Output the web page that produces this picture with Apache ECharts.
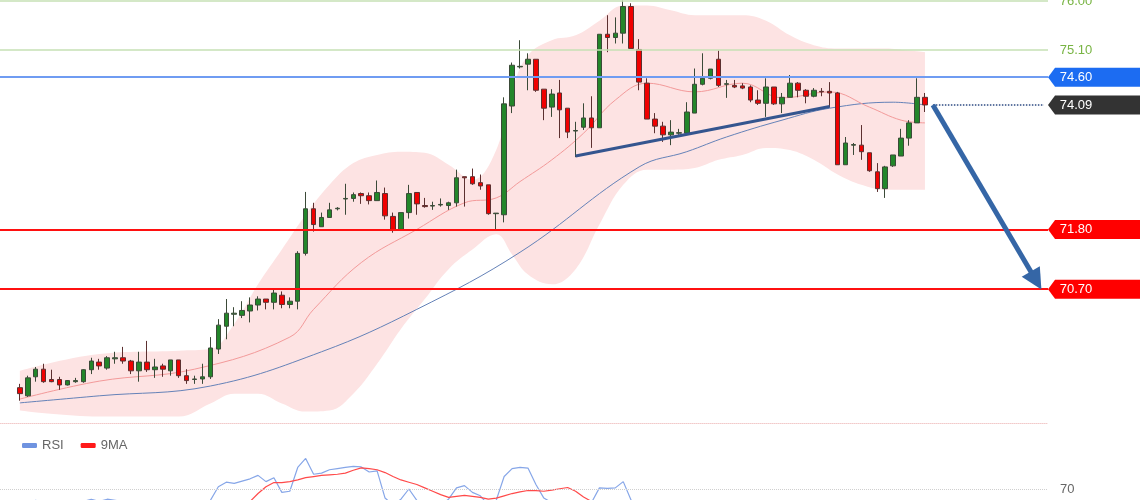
<!DOCTYPE html>
<html>
<head>
<meta charset="utf-8">
<script src="https://cdn.jsdelivr.net/npm/echarts@6/dist/echarts.min.js"></script>
<style>
  html, body { margin: 0; background: #fff; }
  #chart { width: 1140px; height: 500px; }
</style>
</head>
<body>
<div id="chart"></div>
<script>
// empty slots before the first candle, and total slots on the x axis
const LEAD = 2;
const SLOTS = 132;

// [open, close, low, high]
const candles = [
  [68.89, 68.78, 68.65, 68.96], [68.74, 69.07, 68.72, 69.11], [69.09, 69.23, 69.00, 69.27], [69.23, 69.00, 68.98, 69.33],
  [69.04, 69.00, 68.99, 69.22], [69.04, 68.94, 68.85, 69.09], [68.94, 69.02, 68.93, 69.03], [69.00, 69.02, 68.98, 69.07],
  [69.00, 69.22, 68.98, 69.23], [69.22, 69.38, 69.14, 69.44], [69.36, 69.29, 69.22, 69.42], [69.25, 69.44, 69.22, 69.47],
  [69.42, 69.44, 69.33, 69.55], [69.44, 69.38, 69.33, 69.64], [69.38, 69.20, 69.14, 69.40], [69.20, 69.36, 69.00, 69.55],
  [69.36, 69.22, 69.18, 69.75], [69.22, 69.27, 69.07, 69.42], [69.29, 69.23, 69.09, 69.33], [69.20, 69.40, 69.11, 69.40],
  [69.40, 69.11, 69.07, 69.40], [69.11, 69.02, 68.96, 69.23], [69.04, 69.05, 68.96, 69.11], [69.05, 69.09, 68.96, 69.33],
  [69.09, 69.62, 69.05, 69.82], [69.60, 70.04, 69.51, 70.15], [70.02, 70.26, 69.78, 70.52], [70.24, 70.26, 70.02, 70.37],
  [70.22, 70.31, 70.17, 70.48], [70.30, 70.41, 70.09, 70.55], [70.41, 70.52, 70.31, 70.57], [70.52, 70.46, 70.33, 70.52],
  [70.46, 70.63, 70.33, 70.70], [70.59, 70.42, 70.35, 70.66], [70.42, 70.48, 70.35, 70.55], [70.48, 71.36, 70.33, 71.40],
  [71.36, 72.18, 71.32, 72.49], [72.18, 71.89, 71.76, 72.29], [71.85, 72.02, 71.85, 72.11], [72.02, 72.16, 72.02, 72.29],
  [72.18, 72.19, 72.15, 72.21], [72.36, 72.37, 72.07, 72.64], [72.37, 72.44, 72.31, 72.48], [72.46, 72.42, 72.27, 72.48],
  [72.42, 72.33, 72.26, 72.48], [72.33, 72.48, 72.33, 72.70], [72.46, 72.05, 71.98, 72.57], [72.04, 71.78, 71.74, 72.11],
  [71.80, 72.11, 71.80, 72.11], [72.11, 72.46, 72.00, 72.62], [72.48, 72.27, 72.07, 72.48], [72.24, 72.22, 72.20, 72.38],
  [72.23, 72.24, 72.16, 72.31], [72.25, 72.26, 72.22, 72.37], [72.24, 72.29, 72.16, 72.31], [72.29, 72.75, 72.22, 72.90],
  [72.77, 72.75, 72.22, 72.77], [72.77, 72.64, 72.62, 72.92], [72.66, 72.60, 72.53, 72.81], [72.62, 72.09, 72.07, 72.62],
  [72.09, 72.10, 71.80, 72.10], [72.07, 74.11, 71.93, 74.23], [74.07, 74.82, 73.94, 74.87], [74.79, 74.80, 74.76, 75.28],
  [74.84, 74.93, 74.36, 75.04], [74.93, 74.36, 74.33, 74.93], [74.38, 74.03, 73.81, 74.38], [74.05, 74.29, 73.87, 74.38],
  [74.31, 74.00, 73.48, 74.55], [74.03, 73.59, 73.48, 74.03], [73.61, 73.62, 73.13, 73.78], [73.68, 73.85, 73.63, 74.12],
  [73.85, 73.67, 73.30, 74.25], [73.67, 75.39, 73.67, 75.39], [75.39, 75.33, 75.06, 75.74], [75.33, 75.41, 75.22, 75.70],
  [75.41, 75.90, 75.22, 76.01], [75.90, 75.13, 75.13, 75.96], [75.11, 74.51, 74.36, 75.30], [74.49, 73.83, 73.83, 74.58],
  [73.83, 73.70, 73.57, 73.94], [73.70, 73.54, 73.41, 73.78], [73.54, 73.59, 73.35, 73.81], [73.57, 73.58, 73.54, 73.65],
  [73.57, 73.96, 73.57, 74.14], [73.94, 74.47, 73.94, 74.76], [74.47, 74.58, 74.45, 75.04], [74.58, 74.75, 74.56, 74.75],
  [74.93, 74.45, 74.42, 75.09], [74.47, 74.48, 74.22, 74.55], [74.45, 74.42, 74.40, 74.55], [74.44, 74.40, 74.38, 74.49],
  [74.42, 74.18, 74.14, 74.45], [74.18, 74.12, 74.09, 74.36], [74.12, 74.42, 73.87, 74.58], [74.42, 74.11, 74.09, 74.42],
  [74.11, 74.23, 73.94, 74.31], [74.23, 74.49, 74.23, 74.64], [74.49, 74.36, 74.23, 74.51], [74.36, 74.25, 74.12, 74.38],
  [74.25, 74.36, 74.23, 74.40], [74.34, 74.33, 74.25, 74.40], [74.34, 74.31, 74.05, 74.51], [74.31, 72.99, 72.99, 74.33],
  [72.99, 73.39, 72.99, 73.50], [73.35, 73.36, 73.17, 73.39], [73.35, 73.23, 73.08, 73.72], [73.21, 72.88, 72.86, 73.21],
  [72.86, 72.55, 72.49, 73.02], [72.55, 72.95, 72.38, 72.97], [72.97, 73.17, 72.95, 73.17], [73.15, 73.48, 73.15, 73.65],
  [73.48, 73.76, 73.34, 73.81], [73.76, 74.23, 73.76, 74.58], [74.23, 74.09, 73.96, 74.31]
];

// [candle index, price]
const ma20 = [[0, 68.68], [10, 69.01], [22, 69.23], [34, 69.82], [37, 70.33], [43, 71.19], [50, 71.80], [56, 72.29],
  [60, 72.38], [63, 72.68], [67, 73.08], [71, 73.57], [75, 74.18], [79, 74.49], [85, 74.33], [91, 74.49], [96, 74.22],
  [102, 74.33], [107, 74.05], [111, 73.81], [114, 73.76]];
const ma50 = [[0, 68.61], [10, 68.74], [24, 68.92], [38, 69.55], [50, 70.33], [63, 71.38], [78, 72.95], [84, 73.23],
  [89, 73.50], [96, 73.81], [102, 74.03], [110, 74.14], [114, 74.09]];

// Bollinger band, sampled at these candle indices
const bandIdx = [0, 10, 20, 24, 27, 30, 33, 36, 39, 42, 45, 48, 51, 54, 57, 60, 62, 64, 67, 70, 73, 76, 79, 82, 85, 88,
  91, 94, 97, 100, 103, 106, 109, 112, 114];
const bandUpper = [69.20, 69.51, 69.57, 69.60, 70.06, 70.79, 71.43, 72.07, 72.62, 73.02, 73.17, 73.23, 73.21, 72.99,
  72.71, 73.26, 74.36, 75.00, 75.28, 75.37, 75.64, 75.92, 75.92, 75.83, 75.74, 75.74, 75.74, 75.64, 75.37, 75.19, 75.13,
  75.13, 75.13, 75.09, 75.06];
const bandLower = [68.47, 68.36, 68.36, 68.60, 68.78, 68.78, 68.60, 68.45, 68.47, 68.78, 69.33, 69.97, 70.52, 71.07,
  71.43, 71.71, 71.34, 70.97, 70.79, 71.07, 71.89, 72.62, 72.90, 72.90, 72.93, 73.08, 73.17, 73.30, 73.26, 73.08, 72.81,
  72.62, 72.53, 72.53, 72.53];

const rsi = [55, 58, 60, 58, 57, 55, 56, 56, 59, 61, 59, 61, 60, 59, 55, 58, 56, 57, 56, 59, 54, 52, 52, 53,
  60, 72, 76, 75, 77, 79, 82, 76.5, 80, 67, 68, 89, 97, 83, 84, 87, 88, 89, 90, 89.5, 85, 86, 62, 56, 61, 70,
  60, 54, 54, 56, 61, 71, 73, 67, 64, 56, 60, 81, 88, 89, 88.5, 74, 62, 58, 55, 52, 48, 50, 58, 71, 70.5, 71,
  76.5, 60, 50, 42, 38, 36, 35, 36, 36, 44, 52, 54, 56, 50, 50, 49, 49, 46, 45, 51, 46, 48, 53, 50, 48, 50,
  50, 49, 30, 38, 38, 36, 32, 28, 38, 42, 48, 52, 56];
const rsiMa = [55, 55, 56, 56, 57, 57, 57, 56, 56, 56, 57, 57, 58, 58, 58, 57, 57, 57, 56, 56, 55, 55, 55, 55,
  55, 55, 56, 56, 57, 59, 66, 72, 75.7, 75.7, 76.5, 78, 80, 81, 82, 82.5, 83, 84, 86.5, 88.7, 88, 87, 84.5, 81,
  78, 76, 74, 71, 68, 65, 62.6, 63.5, 64.3, 63.5, 62.6, 61, 62, 64, 66, 67.5, 68.7, 68.5, 68, 69, 70.2, 71.3,
  68, 63, 59, 57, 57, 58, 59, 59, 58, 56, 53, 50, 47, 45, 43, 42, 42, 43, 44, 46, 48, 49, 50, 50, 50, 49, 49,
  49, 49, 49, 50, 50, 50, 49, 46, 43, 41, 40, 39, 38, 38, 39, 40, 42, 44];

const resistances = [76.00, 75.10];
const pivot = 74.60;
const supports = [71.80, 70.70];
const lastPrice = 74.09;
const rsiLevel = 70;
const trendFrom = [70, 73.15];
const trendTo = [102, 74.06];
const arrowFrom = [115, 74.09];
const arrowTo = [128, 70.86];

const slots = Array.from({ length: SLOTS }, (_, i) => String(i));
const slotOf = i => String(i + LEAD);
const pairs = list => list.map(([i, v]) => [i + LEAD, v]);
const bandLowerData = bandIdx.map((i, k) => [i + LEAD, bandLower[k]]);
const bandWidthData = bandIdx.map((i, k) => [i + LEAD, +(bandUpper[k] - bandLower[k]).toFixed(2)]);
const lastSlot = String(SLOTS - 1);

const fmt = v => v.toFixed(2);
const tag = 'path://M0,9L7,0L92,0L92,18L7,18Z';
function priceTag(value, bg, fg) {
  return {
    coord: [lastSlot, value],
    symbol: tag,
    symbolSize: [92, 19],
    symbolKeepAspect: false,
    symbolOffset: [50, 0],
    itemStyle: { color: bg },
    label: { show: true, formatter: fmt(value), color: fg, fontSize: 13, offset: [-18, 0] }
  };
}

const chart = echarts.init(document.getElementById('chart'));
chart.setOption({
  animation: false,
  backgroundColor: '#ffffff',
  textStyle: { fontFamily: 'Arial, "Liberation Sans", sans-serif' },
  legend: {
    data: ['RSI', '9MA'],
    left: 17,
    top: 434,
    icon: 'roundRect',
    itemWidth: 15,
    itemHeight: 5,
    itemGap: 17,
    textStyle: { color: '#666', fontSize: 13 }
  },
  grid: [
    { left: 0, right: 92, top: 0, height: 423 },
    // the RSI panel runs past the bottom edge; its visible slice is 60..100
    { left: 0, right: 92, top: 455, bottom: 0 }
  ],
  xAxis: [
    {
      type: 'category', data: slots, gridIndex: 0, boundaryGap: true, z: 10,
      axisLabel: { show: false }, axisTick: { show: false },
      axisLine: { show: true, lineStyle: { color: '#f2caca', type: 'dotted', width: 1 } }
    },
    {
      type: 'category', data: slots, gridIndex: 1, boundaryGap: true,
      axisLabel: { show: false }, axisTick: { show: false }, axisLine: { show: false }
    }
  ],
  yAxis: [
    { type: 'value', gridIndex: 0, min: 68.24, max: 76.02, show: false, splitLine: { show: false } },
    { type: 'value', gridIndex: 1, min: 60.3, max: 100, show: false, splitLine: { show: false } }
  ],
  series: [
    {
      name: 'band-low', type: 'line', stack: 'bb', data: bandLowerData, symbol: 'none', smooth: 0.4,
      lineStyle: { opacity: 0 }, silent: true, z: 1
    },
    {
      name: 'band', type: 'line', stack: 'bb', data: bandWidthData, symbol: 'none', smooth: 0.4,
      lineStyle: { opacity: 0 }, areaStyle: { color: '#fde3e3', opacity: 1 }, silent: true, z: 1
    },
    {
      name: 'ma50', type: 'line', data: pairs(ma50), symbol: 'none', smooth: 0.4,
      lineStyle: { color: '#6582b8', width: 1 }, z: 3
    },
    {
      name: 'ma20', type: 'line', data: pairs(ma20), symbol: 'none', smooth: 0.4,
      lineStyle: { color: '#f39a9a', width: 1 }, z: 3
    },
    {
      name: 'price', type: 'candlestick',
      data: Array(LEAD).fill('-').concat(candles),
      barWidth: 5,
      z: 4,
      itemStyle: {
        color: '#23862a', color0: '#f00000',
        borderColor: '#3b4a38', borderColor0: '#5c3030', borderWidth: 1
      },
      markLine: {
        silent: true, symbol: 'none', animation: false,
        label: { show: false },
        data: [
          ...resistances.map(v => ({ yAxis: v, lineStyle: { color: '#c6e1b4', width: 1.5, type: 'solid' } })),
          { yAxis: pivot, lineStyle: { color: '#6f9cf2', width: 2, type: 'solid' } },
          ...supports.map(v => ({ yAxis: v, lineStyle: { color: '#ff1010', width: 2, type: 'solid' } })),
          [
            { coord: [slotOf(arrowFrom[0]), lastPrice] },
            { coord: [lastSlot, lastPrice], lineStyle: { color: '#2e4b82', width: 1.5, type: 'dotted' } }
          ],
          [
            { coord: [slotOf(trendFrom[0]), trendFrom[1]] },
            { coord: [slotOf(trendTo[0]), trendTo[1]], lineStyle: { color: '#34558f', width: 3, type: 'solid' } }
          ],
          [
            { coord: [slotOf(arrowFrom[0]), arrowFrom[1]] },
            { coord: [slotOf(arrowTo[0]), arrowTo[1]], symbol: 'path://M10,0L20,22L0,22Z', symbolSize: 21,
              lineStyle: { color: '#3566a6', width: 5, type: 'solid' }, itemStyle: { color: '#3566a6' } }
          ]
        ]
      },
      markPoint: {
        silent: true, animation: false,
        data: [
          ...resistances.map(v => priceTag(v, 'rgba(0,0,0,0)', '#78b443')),
          priceTag(pivot, '#1c6cf2', '#ffffff'),
          priceTag(lastPrice, '#333333', '#ffffff'),
          ...supports.map(v => priceTag(v, '#ff0000', '#ffffff'))
        ]
      }
    },
    {
      name: 'RSI', type: 'line', xAxisIndex: 1, yAxisIndex: 1,
      data: Array(LEAD).fill('-').concat(rsi), symbol: 'none',
      lineStyle: { color: '#86a6e8', width: 1.2 }, itemStyle: { color: '#6f93e0' },
      markLine: {
        silent: true, symbol: 'none', animation: false,
        data: [{ yAxis: rsiLevel }],
        lineStyle: { color: '#cfcfcf', type: 'dotted', width: 1 },
        label: { show: true, position: 'end', distance: 12, formatter: String(rsiLevel), color: '#666', fontSize: 13 }
      }
    },
    {
      name: '9MA', type: 'line', xAxisIndex: 1, yAxisIndex: 1,
      data: Array(LEAD).fill('-').concat(rsiMa), symbol: 'none',
      lineStyle: { color: '#ff4a4a', width: 1.2 }, itemStyle: { color: '#ff1a1a' }
    }
  ]
});
</script>
</body>
</html>
